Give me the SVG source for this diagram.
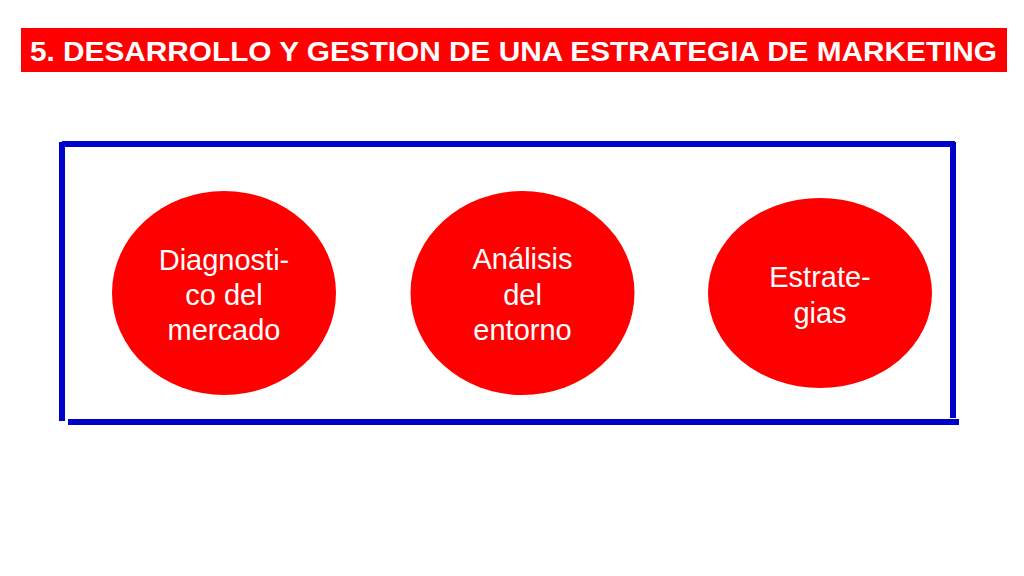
<svg xmlns="http://www.w3.org/2000/svg" width="1024" height="576" viewBox="0 0 1024 576">
<style>
.bar{fill:#FF0000}
.title{font-family:"Liberation Sans",Arial,sans-serif;font-weight:bold;font-size:28px;fill:#FFFFFF}
.frame{stroke:#0000CC;stroke-width:6;fill:none;stroke-linecap:butt}
.node{fill:#FF0000}
.lbl{font-family:"Liberation Sans",Arial,sans-serif;font-size:29px;fill:#FFFFFF;text-anchor:middle}
</style>
<rect width="1024" height="576" fill="#FFFFFF"/>
<g id="title">
<rect class="bar" x="21" y="28" width="986" height="44"/>
<text class="title" x="30" y="60.5" textLength="967" lengthAdjust="spacingAndGlyphs">5. DESARROLLO Y GESTION DE UNA ESTRATEGIA DE MARKETING</text>
</g>
<g id="frame">
<line class="frame" x1="62" y1="144" x2="955" y2="144"/>
<line class="frame" x1="62" y1="142" x2="62" y2="421"/>
<line class="frame" x1="953" y1="142" x2="953" y2="418"/>
<line class="frame" x1="68" y1="422" x2="959" y2="422"/>
</g>
<g id="connectors"></g>
<g id="node-diagnostico">
<ellipse class="node" cx="224" cy="293" rx="112" ry="102"/>
<text class="lbl" x="224" y="269.5">Diagnosti-</text>
<text class="lbl" x="224" y="305">co del</text>
<text class="lbl" x="224" y="339.5">mercado</text>
</g>
<g id="node-analisis">
<ellipse class="node" cx="522.5" cy="293" rx="112" ry="102"/>
<text class="lbl" x="522.5" y="269">Análisis</text>
<text class="lbl" x="522.5" y="305">del</text>
<text class="lbl" x="522.5" y="340">entorno</text>
</g>
<g id="node-estrategias">
<ellipse class="node" cx="820" cy="293" rx="112" ry="95"/>
<text class="lbl" x="820" y="287">Estrate-</text>
<text class="lbl" x="820" y="322.5">gias</text>
</g>
</svg>
